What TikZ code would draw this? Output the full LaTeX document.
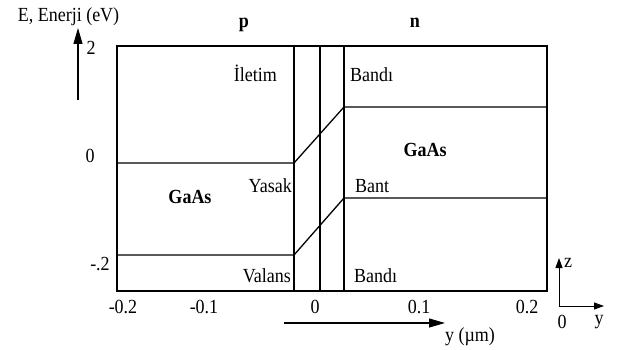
\documentclass[tikz,border=0pt]{standalone}
\usepackage{fontspec}
\setmainfont{Liberation Serif}[FakeStretch=0.9]
\usetikzlibrary{arrows.meta,positioning,calc}

\tikzset{
  txt/.style={inner sep=0pt, font=\fontsize{20}{22}\selectfont},
  boldtxt/.style={txt, font=\fontsize{20}{22}\selectfont\bfseries},
  frame/.style={line width=1.3pt},
  bandline/.style={line width=1.3pt},
  bigarrow/.style={line width=1.1pt, -{Triangle[length=16pt,width=9pt]}},
  smallarrow/.style={line width=1pt, -{Triangle[length=10pt,width=7pt]}}
}

\begin{document}
\begin{tikzpicture}[x=1pt, y=-1pt]
  \useasboundingbox (0,0) rectangle (619,350);

  % energy axis
  \node[txt, anchor=base] (elabel) at (68.5,22) {E, Enerji (eV)};
  \coordinate (eBot) at (78,100);
  \coordinate (eTop) at (78,28);
  \draw[bigarrow] (eBot) -- (eTop);
  \node[txt, anchor=base] (e2) at (91,55) {2};
  \node[txt, anchor=base] (e0) at (90,163) {0};
  \node[txt, anchor=base] (em2) at (100,270) {-.2};

  % regions
  \node[boldtxt, anchor=base] (preg) at (244,28) {p};
  \node[boldtxt, anchor=base] (nreg) at (415,28) {n};

  % frame and junction lines
  \draw[frame] (117,46) rectangle (547,291);
  \draw[frame] (294,46) -- (294,291);
  \draw[frame] (344,46) -- (344,291);
  \draw[line width=2.8pt] (320,46) -- (320,291);

  % conduction band
  \coordinate (cbL) at (117,163);
  \coordinate (cbA) at (294,163);
  \coordinate (cbB) at (344,107);
  \coordinate (cbR) at (547,107);
  \draw[bandline] (cbL) -- (cbA) -- (cbB) -- (cbR);

  % valence band
  \coordinate (vbL) at (117,255);
  \coordinate (vbA) at (294,255);
  \coordinate (vbB) at (344,198);
  \coordinate (vbR) at (547,198);
  \draw[bandline] (vbL) -- (vbA) -- (vbB) -- (vbR);

  % band labels
  \node[txt, anchor=base east] (iletim) at (277,82) {İletim};
  \node[txt, anchor=base west] (bandiC) at (350,82) {Bandı};
  \node[txt, anchor=base east] (yasak) at (292,193) {Yasak};
  \node[txt, anchor=base west] (bant) at (355,193) {Bant};
  \node[txt, anchor=base east] (valans) at (291,282) {Valans};
  \node[txt, anchor=base west] (bandiV) at (354,282) {Bandı};
  \node[boldtxt, anchor=base] (gaasL) at (190,204) {GaAs};
  \node[boldtxt, anchor=base] (gaasR) at (425,157) {GaAs};

  % y axis ticks
  \node[txt, anchor=base] (tm2) at (123,313) {-0.2};
  \node[txt, anchor=base] (tm1) at (204,313) {-0.1};
  \node[txt, anchor=base] (t0) at (315,313) {0};
  \node[txt, anchor=base] (t1) at (419,313) {0.1};
  \node[txt, anchor=base] (t2) at (527,313) {0.2};

  \coordinate (yStart) at (284,323);
  \coordinate (yEnd) at (445,323);
  \draw[bigarrow] (yStart) -- (yEnd);
  \node[txt, anchor=base] (ylabel) at (470,341) {y (µm)};

  % small coordinate system
  \coordinate (orig) at (559,306);
  \coordinate (zTip) at (559,258);
  \coordinate (yTip) at (604,306);
  \draw[smallarrow] (orig) -- (zTip);
  \draw[smallarrow] (orig) -- (yTip);
  \node[txt, anchor=base] (zname) at (568,267) {z};
  \node[txt, anchor=base] (oname) at (562,328) {0};
  \node[txt, anchor=base] (yname) at (599,324) {y};
\end{tikzpicture}
\end{document}
